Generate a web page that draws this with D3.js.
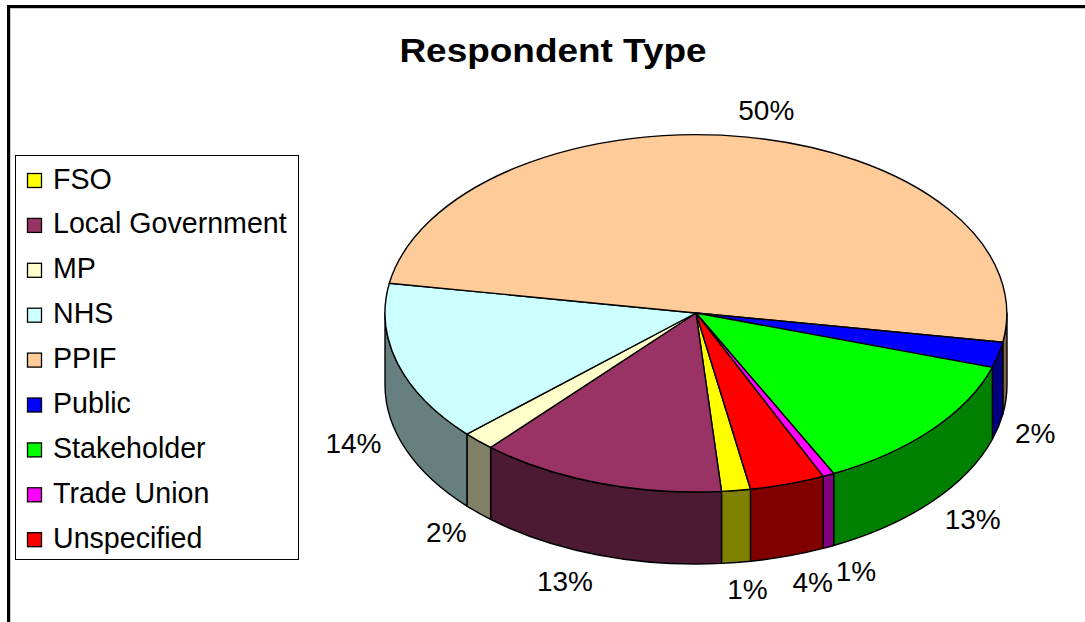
<!DOCTYPE html>
<html>
<head>
<meta charset="utf-8">
<script src="https://cdn.jsdelivr.net/npm/d3@7"></script>
<style>
  html, body { margin: 0; padding: 0; background: #fff; }
  svg { display: block; }
  text { font-family: "Liberation Sans", Arial, Helvetica, sans-serif; fill: #000; }
</style>
</head>
<body>
<svg id="chart" width="1085" height="622"></svg>
<script>
// ---- data ----
const categories = ["FSO", "Local Government", "MP", "NHS", "PPIF", "Public", "Stakeholder", "Trade Union", "Unspecified"];
const values = [1.5, 12.8, 1.7, 14.5, 50.0, 2.3, 12.8, 0.6, 3.9];
const topColors = ["#FFFF00", "#993366", "#FFFFCC", "#CCFFFF", "#FFCC99", "#0000FF", "#00FF00", "#FF00FF", "#FF0000"];
const titleText = "Respondent Type";

// ---- layout ----
const W = 1085, H = 622;
const cx = 696, cy = 313, rx = 311, ry = 179, depth = 72;
const startDeg = 169.9;

const svg = d3.select("#chart");

// outer chart border
svg.append("rect")
  .attr("x", 8.5).attr("y", 6.5)
  .attr("width", W + 20).attr("height", H + 20)
  .attr("fill", "#fff").attr("stroke", "#000").attr("stroke-width", 3);
svg.append("rect")
  .attr("x", 10.5).attr("y", 8.5)
  .attr("width", W + 20).attr("height", H + 20)
  .attr("fill", "none").attr("stroke", "#c8c8c8").attr("stroke-width", 1);

// title
svg.append("text")
  .attr("transform", "translate(553,62) scale(1.12,1)")
  .attr("text-anchor", "middle")
  .style("font-size", "33px").style("font-weight", "bold")
  .text(titleText);

const color = d3.scaleOrdinal().domain(categories).range(topColors);
const sideColor = c => { const r = d3.rgb(c); return d3.rgb(r.r / 2, r.g / 2, r.b / 2).formatHex(); };

const total = d3.sum(values);
const data = categories.map((c, i) => ({ cat: c, value: values[i] }));
const start = startDeg * Math.PI / 180;
const pie = d3.pie().sort(null).value(d => d.value).startAngle(start).endAngle(start + 2 * Math.PI);
const arcs = pie(data);

const pt = (a, dy = 0) => [cx + rx * Math.sin(a), cy - ry * Math.cos(a) + dy];
const fmt = p => p[0].toFixed(2) + "," + p[1].toFixed(2);

// side faces (front half only)
const frontRanges = [[Math.PI / 2, 3 * Math.PI / 2], [5 * Math.PI / 2, 7 * Math.PI / 2]];
const sides = [];
arcs.forEach(a => {
  frontRanges.forEach(([f0, f1]) => {
    const s0 = Math.max(a.startAngle, f0), s1 = Math.min(a.endAngle, f1);
    if (s1 > s0 + 1e-6) sides.push({ cat: a.data.cat, s0, s1 });
  });
});
const gSide = svg.append("g");
gSide.selectAll("path").data(sides).join("path")
  .attr("d", d => {
    const p0 = pt(d.s0), p1 = pt(d.s1), q1 = pt(d.s1, depth), q0 = pt(d.s0, depth);
    return `M${fmt(p0)}A${rx},${ry} 0 0 1 ${fmt(p1)}L${fmt(q1)}A${rx},${ry} 0 0 0 ${fmt(q0)}Z`;
  })
  .attr("fill", d => sideColor(color(d.cat)))
  .attr("stroke", "#000").attr("stroke-width", 1.4).attr("stroke-linejoin", "round");

// top faces
const gTop = svg.append("g");
gTop.selectAll("path").data(arcs).join("path")
  .attr("d", d => {
    const p0 = pt(d.startAngle), p1 = pt(d.endAngle);
    const large = (d.endAngle - d.startAngle) > Math.PI ? 1 : 0;
    return `M${cx},${cy}L${fmt(p0)}A${rx},${ry} 0 ${large} 1 ${fmt(p1)}Z`;
  })
  .attr("fill", d => color(d.data.cat))
  .attr("stroke", "#000").attr("stroke-width", 1.4).attr("stroke-linejoin", "round");

// data labels
const gLab = svg.append("g");
arcs.forEach(a => {
  const m = (a.startAngle + a.endAngle) / 2;
  const s = Math.sin(m), c = Math.cos(m);
  const t = gLab.append("text")
    .style("font-size", "28px")
    .attr("text-anchor", "middle")
    .text(Math.round(a.data.value / total * 100) + "%");
  const w = t.node().getComputedTextLength();
  const f = Math.max(-1, Math.min(1, 3.5 * s));
  const lx = cx + (rx + 17) * s + (w / 2) * f;
  const ly = cy - (ry + 27) * c + (c < 0 ? depth : 0);
  t.attr("x", lx).attr("y", ly + 10);
});

// legend
const lg = svg.append("g");
lg.append("rect")
  .attr("x", 15.5).attr("y", 155.5).attr("width", 283).attr("height", 404)
  .attr("fill", "#fff").attr("stroke", "#000").attr("stroke-width", 1);
const step = 44.9;
const items = lg.selectAll("g.item").data(categories).join("g")
  .attr("class", "item")
  .attr("transform", (d, i) => `translate(0,${i * step})`);
items.append("rect")
  .attr("x", 27.5).attr("y", 173.5).attr("width", 14).attr("height", 14)
  .attr("fill", d => color(d)).attr("stroke", "#000").attr("stroke-width", 1.3);
items.append("text")
  .attr("x", 53).attr("y", 188.5)
  .style("font-size", "28.6px")
  .text(d => d);
</script>
</body>
</html>
